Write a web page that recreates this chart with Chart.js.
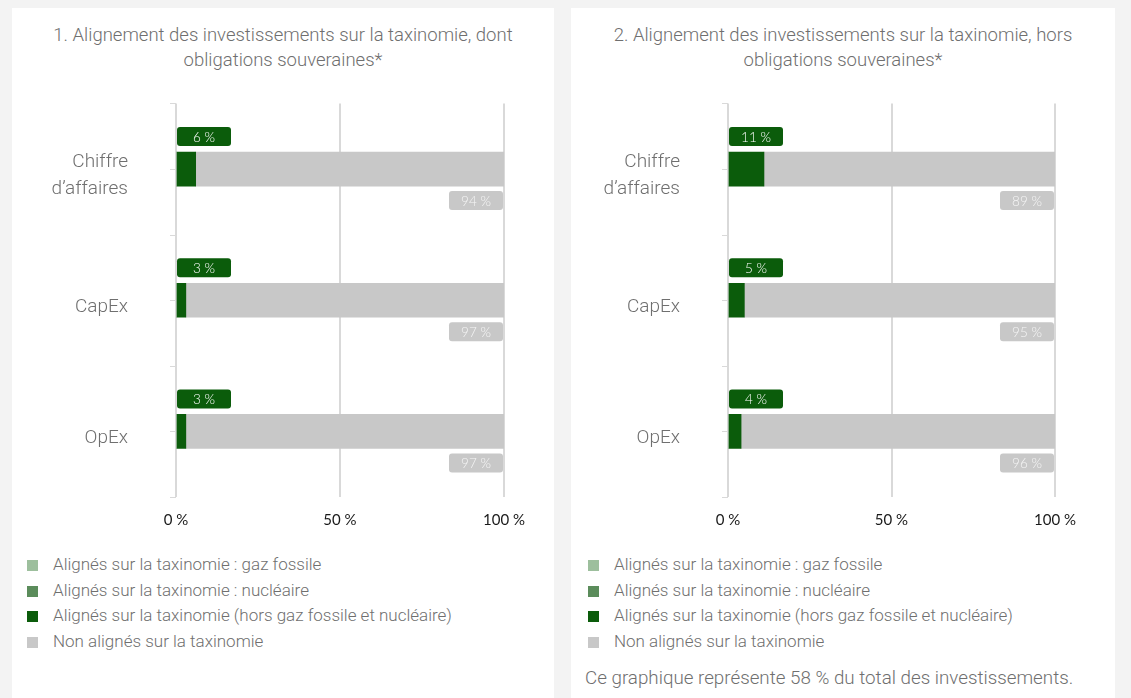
<!DOCTYPE html>
<html lang="fr">
<head>
<meta charset="utf-8">
<script src="https://cdn.jsdelivr.net/npm/chart.js@4.4.0/dist/chart.umd.min.js"></script>
<style>
body{margin:0;background:#f3f3f3;width:1131px;height:698px;overflow:hidden;font-family:Roboto,sans-serif;font-weight:300;color:#6f6f6f}
.panneau{position:absolute;top:8px;height:690px;background:#fff}
#p1{left:12px;width:542px}
#p2{left:571px;width:544px}
.titre{position:absolute;top:15px;left:0;right:0;text-align:center;font-size:18.5px;line-height:25px}
.cadre{position:absolute;top:82px;left:0;height:450px}
.legende{position:absolute;top:544px;font-size:17px;line-height:25.5px}
.legende div{white-space:nowrap}
.legende span{display:inline-block;width:11px;height:11px;margin-right:15px;vertical-align:-1px}
.note{position:absolute;font-size:18.8px;line-height:25px;white-space:nowrap}
</style>
</head>
<body>
<div class="panneau" id="p1">
  <div class="titre">1. Alignement des investissements sur la taxinomie, dont<br>obligations souveraines*</div>
  <div class="cadre" style="width:542px"><canvas id="graphe1"></canvas></div>
  <div class="legende" id="leg1" style="left:15px"></div>
</div>
<div class="panneau" id="p2">
  <div class="titre">2. Alignement des investissements sur la taxinomie, hors<br>obligations souveraines*</div>
  <div class="cadre" style="width:544px"><canvas id="graphe2"></canvas></div>
  <div class="legende" id="leg2" style="left:17px"></div>
</div>
<div class="note" style="left:585px;top:666px">Ce graphique représente 58 % du total des investissements.</div>
<script>
const categories = [['Chiffre', 'd’affaires'], 'CapEx', 'OpEx'];
const ticksX = [0, 50, 100];

// 1. dont obligations souveraines
const gazFossile1 = [0, 0, 0];
const nucleaire1 = [0, 0, 0];
const alignes1 = [6, 3, 3];
const nonAlignes1 = [94, 97, 97];

// 2. hors obligations souveraines
const gazFossile2 = [0, 0, 0];
const nucleaire2 = [0, 0, 0];
const alignes2 = [11, 5, 4];
const nonAlignes2 = [89, 95, 96];

const noms = [
    'Alignés sur la taxinomie : gaz fossile',
    'Alignés sur la taxinomie : nucléaire',
    'Alignés sur la taxinomie (hors gaz fossile et nucléaire)',
    'Non alignés sur la taxinomie'
];
const couleurs = ['#9dbf9d', '#5b8c5b', '#0b5c0b', '#c8c8c8'];
const gris = '#6f6f6f';

// petites etiquettes arrondies au-dessus / en dessous des barres
const etiquettes = {
    id: 'etiquettes',
    afterDatasetsDraw(chart) {
        const ctx = chart.ctx;
        ctx.save();
        ctx.font = '300 13.5px Lato';
        ctx.textAlign = 'center';
        ctx.textBaseline = 'middle';
        [2, 3].forEach(i => {
            chart.getDatasetMeta(i).data.forEach((barre, j) => {
                const v = chart.data.datasets[i].data[j];
                const w = 54, h = 19;
                let x, y;
                if (i === 2) {
                    x = barre.base;
                    y = barre.y - barre.height / 2 - 6 - h;
                } else {
                    x = barre.x - w - 1;
                    y = barre.y + barre.height / 2 + 5;
                }
                ctx.fillStyle = couleurs[i];
                ctx.beginPath();
                ctx.roundRect(x, y, w, h, 3);
                ctx.fill();
                ctx.fillStyle = i === 2 ? '#ffffff' : '#f6f6f6';
                ctx.fillText(v + ' %', x + w / 2, y + h / 2 + 1);
            });
        });
        ctx.restore();
    }
};

// traits de l'axe vertical : au centre et entre les categories
const traitsY = {
    id: 'traitsY',
    afterDraw(chart) {
        const ctx = chart.ctx, y = chart.scales.y, zone = chart.chartArea, g = zone.left;
        const centres = categories.map((c, j) => y.getPixelForValue(j));
        const bords = [zone.top];
        for (let j = 1; j < centres.length; j++) bords.push((centres[j - 1] + centres[j]) / 2);
        bords.push(zone.bottom);
        ctx.save();
        ctx.strokeStyle = '#d9d9d9';
        ctx.lineWidth = 1;
        centres.concat(bords).forEach(p => {
            const py = Math.round(p) + 0.5;
            ctx.beginPath();
            ctx.moveTo(g - 6, py);
            ctx.lineTo(g, py);
            ctx.stroke();
        });
        ctx.restore();
    }
};

function dessinerGraphe(id, series, largeurY, margeDroite) {
    const datasets = series.map((s, i) => ({
        label: noms[i],
        data: s,
        backgroundColor: couleurs[i],
        barThickness: 34,
        borderWidth: 0
    }));
    const config = {
        type: 'bar',
        data: { labels: categories, datasets: datasets },
        options: {
            indexAxis: 'y',
            responsive: true,
            maintainAspectRatio: false,
            animation: false,
            layout: { padding: { top: 13, right: margeDroite, left: 0, bottom: 0 } },
            plugins: { legend: { display: false }, tooltip: { enabled: false } },
            scales: {
                x: {
                    stacked: true, min: 0, max: 100,
                    afterBuildTicks: s => { s.ticks = ticksX.map(v => ({ value: v })); },
                    grid: { color: '#d9d9d9', lineWidth: 2, drawTicks: false },
                    border: { display: false },
                    ticks: { padding: 14, color: '#1a1a1a', font: { family: 'Lato', size: 15 }, callback: v => v + ' %' },
                    afterFit: s => { s.height = 43; }
                },
                y: {
                    stacked: true,
                    grid: { drawOnChartArea: false, tickColor: 'rgba(0,0,0,0)', tickLength: 48 },
                    border: { display: false },
                    ticks: { padding: 0, labelOffset: 7, color: gris, font: { family: 'Roboto', size: 19, weight: 300, lineHeight: 1.42 } },
                    afterFit: s => { s.width = largeurY; }
                }
            }
        },
        plugins: [etiquettes, traitsY]
    };
    return new Chart(document.getElementById(id).getContext('2d'), config);
}

function remplirLegende(id) {
    const el = document.getElementById(id);
    noms.forEach((n, i) => {
        const ligne = document.createElement('div');
        ligne.innerHTML = '<span style="background:' + couleurs[i] + '"></span>' + n;
        el.appendChild(ligne);
    });
}

dessinerGraphe('graphe1', [gazFossile1, nucleaire1, alignes1, nonAlignes1], 164, 50);
dessinerGraphe('graphe2', [gazFossile2, nucleaire2, alignes2, nonAlignes2], 157, 60);
remplirLegende('leg1');
remplirLegende('leg2');
</script>
</body>
</html>
